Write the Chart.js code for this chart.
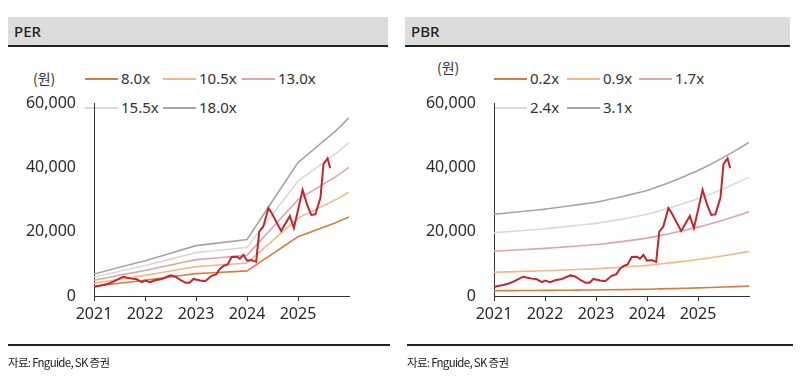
<!DOCTYPE html>
<html>
<head>
<meta charset="utf-8">
<script src="https://cdn.jsdelivr.net/npm/chart.js@4.4.0/dist/chart.umd.min.js"></script>
<style>
  body { margin: 0; width: 800px; height: 385px; background: #fff; overflow: hidden;
         font-family: "Noto Sans", "Noto Sans CJK KR", sans-serif; color: #222; }
  .panel { position: absolute; top: 0; width: 400px; height: 385px; }
  .panel canvas { position: absolute; left: 0; top: 0; }
  .head { position: absolute; top: 17px; height: 28px; background: #dcdcdc;
          border-bottom: 2px solid #222; font-size: 15px; font-weight: 500;
          line-height: 28px; padding-left: 6px; box-sizing: content-box; }
  .foot { position: absolute; top: 344px; height: 0; border-top: 2px solid #222; }
  .src { position: absolute; top: 354px; font-size: 11.5px; letter-spacing: -0.7px;
         font-family: "Noto Sans CJK KR", sans-serif; }
  .unit { position: absolute; font-size: 14px; font-family: "Noto Sans CJK KR", sans-serif; color: #333; }
  .leg { position: absolute; font-size: 15px; line-height: 20px; white-space: nowrap; color: #333; }
  .leg i { display: inline-block; width: 33px; height: 0; border-top: 2px solid; vertical-align: middle;
           margin-right: 3px; position: relative; top: -1px; }
</style>
</head>
<body>
<div class="panel" style="left:0">
  <div class="head" style="left:8px;width:374px">PER</div>
  <div class="unit" style="left:33px;top:68px">(원)</div>
  <div id="legPer"></div>
  <canvas id="perChart" width="400" height="385"></canvas>
  <div class="foot" style="left:8px;width:382px"></div>
  <div class="src" style="left:8px">자료: Fnguide, SK 증권</div>
</div>
<div class="panel" style="left:400px">
  <div class="head" style="left:5px;width:379px">PBR</div>
  <div class="unit" style="left:37px;top:57px">(원)</div>
  <div id="legPbr"></div>
  <canvas id="pbrChart" width="400" height="385"></canvas>
  <div class="foot" style="left:7px;width:386px"></div>
  <div class="src" style="left:7px">자료: Fnguide, SK 증권</div>
</div>
<script>
// quarterly x positions for the band lines (2021.0 .. 2026.0)
const bandX = [2021, 2021.25, 2021.5, 2021.75, 2022, 2022.25, 2022.5, 2022.75, 2023, 2023.25, 2023.5,
               2023.75, 2024, 2024.25, 2024.5, 2024.75, 2025, 2025.25, 2025.5, 2025.75, 2026];

const per8 = [3040, 3500, 3960, 4420, 4880, 5400, 5920, 6440, 6960, 7170, 7380, 7580, 7800,
              10460, 13120, 15780, 18440, 19920, 21400, 22880, 24600];
const per105 = [3990, 4590, 5200, 5800, 6405, 7090, 7770, 8450, 9135, 9410, 9680, 9950, 10240,
                13720, 17220, 20710, 24200, 26150, 28090, 30030, 32300];
const per13 = [4940, 5680, 6435, 7180, 7930, 8775, 9620, 10465, 11310, 11650, 11990, 12320, 12675,
               16990, 21320, 25640, 29965, 32370, 34775, 37180, 40000];
const per155 = [5890, 6770, 7670, 8560, 9455, 10460, 11470, 12480, 13485, 13890, 14290, 14690, 15110,
                20260, 25420, 30570, 35730, 38600, 41460, 44330, 47700];
const per18 = [6840, 7870, 8910, 9940, 10980, 12150, 13320, 14490, 15660, 16130, 16600, 17060, 17550,
               23530, 29520, 35500, 41490, 44820, 48150, 51480, 55400];

const pbr02 = [1640, 1664, 1690, 1716, 1742, 1776, 1810, 1846, 1882, 1934, 1990, 2052, 2116,
               2208, 2304, 2408, 2518, 2644, 2780, 2926, 3080];
const pbr09 = [7380, 7490, 7605, 7720, 7840, 7990, 8145, 8305, 8470, 8700, 8955, 9235, 9520,
               9935, 10370, 10835, 11330, 11900, 12510, 13170, 13860];
const pbr17 = [13940, 14145, 14365, 14585, 14805, 15095, 15385, 15690, 16000, 16440, 16915, 17440, 17985,
               18770, 19585, 20470, 21405, 22475, 23630, 24870, 26180];
const pbr24 = [19680, 19970, 20280, 20590, 20900, 21310, 21720, 22150, 22585, 23210, 23880, 24625, 25390,
               26495, 27650, 28895, 30215, 31730, 33360, 35110, 36960];
const pbr31 = [25420, 25790, 26195, 26600, 27000, 27530, 28055, 28615, 29170, 29980, 30845, 31805, 32800,
               34225, 35710, 37325, 39030, 40980, 43090, 45350, 47740];

// share price (decimal year, won)
const priceX = [2021.00, 2021.08, 2021.18, 2021.28, 2021.37, 2021.47, 2021.57, 2021.66, 2021.74, 2021.84,
                2021.94, 2022.00, 2022.10, 2022.20, 2022.33, 2022.42, 2022.50, 2022.60, 2022.70, 2022.80,
                2022.87, 2022.95, 2023.08, 2023.18, 2023.30, 2023.40, 2023.47, 2023.55, 2023.62, 2023.70,
                2023.80, 2023.86, 2023.93, 2024.00, 2024.09, 2024.18, 2024.24, 2024.32, 2024.42, 2024.48,
                2024.67, 2024.84, 2024.92, 2025.09, 2025.18, 2025.26, 2025.34, 2025.44, 2025.50, 2025.58,
                2025.63];
const price = [2800, 3100, 3400, 3800, 4400, 5200, 6000, 5700, 5400, 5200,
               4300, 4800, 4300, 4900, 5300, 5900, 6400, 6000, 4900, 4100,
               4100, 5300, 4800, 4600, 6200, 6800, 8500, 9400, 9800, 12100,
               12200, 11600, 12800, 11000, 11200, 10600, 20000, 21600, 27300, 25900,
               20200, 24900, 21100, 33000, 28300, 25200, 25400, 30500, 41000, 42800,
               39700];

const yearTicks = [2021, 2022, 2023, 2024, 2025];
const yTicks = [0, 20000, 40000, 60000];

const bandColors = ['#d97b3c', '#f2b983', '#e3a3a5', '#d9d9d9', '#a6a6a6'];
const priceColor = '#c0282d';

const perLabels = ['8.0x', '10.5x', '13.0x', '15.5x', '18.0x'];
const pbrLabels = ['0.2x', '0.9x', '1.7x', '2.4x', '3.1x'];

const tickFont = { family: '"Noto Sans", sans-serif', size: 16 };

function pts(xs, ys) {
    return xs.map((x, i) => ({ x: x, y: ys[i] }));
}

function makeChart(id, bands, labels, curved) {
    const datasets = [{
        label: 'price',
        data: pts(priceX, price),
        borderColor: priceColor,
        borderWidth: 2,
        tension: 0
    }];
    bands.forEach((b, i) => {
        datasets.push({
            label: labels[i],
            data: pts(bandX, b),
            borderColor: bandColors[i],
            borderWidth: 1.6,
            tension: 0,
            cubicInterpolationMode: curved ? 'monotone' : 'default'
        });
    });

    return new Chart(document.getElementById(id).getContext('2d'), {
        type: 'line',
        data: { datasets: datasets },
        options: {
            animation: false,
            responsive: false,
            elements: { point: { radius: 0 } },
            layout: { padding: { top: 103, right: 51, bottom: 0, left: 0 } },
            plugins: { legend: { display: false }, tooltip: { enabled: false } },
            scales: {
                x: {
                    type: 'linear',
                    min: 2021,
                    max: 2026,
                    afterBuildTicks: s => { s.ticks = yearTicks.map(v => ({ value: v })); },
                    afterFit: s => { s.height = 89; },
                    grid: { drawOnChartArea: false, drawTicks: true, tickLength: 5, color: '#333' },
                    border: { color: '#333', width: 1 },
                    ticks: { padding: 4, color: '#2a2a2a', font: tickFont, maxRotation: 0,
                             callback: v => String(v) }
                },
                y: {
                    min: 0,
                    max: 60000,
                    afterBuildTicks: s => { s.ticks = yTicks.map(v => ({ value: v })); },
                    afterFit: s => { s.width = 94; },
                    grid: { display: false, drawTicks: false },
                    border: { color: '#333', width: 1 },
                    ticks: { padding: 18, color: '#2a2a2a', font: tickFont,
                             callback: v => v.toLocaleString('en-US') }
                }
            }
        }
    });
}

function makeLegend(id, labels, spots) {
    const box = document.getElementById(id);
    labels.forEach((t, i) => {
        const d = document.createElement('div');
        d.className = 'leg';
        d.style.left = spots[i][0] + 'px';
        d.style.top = (spots[i][1] - 10) + 'px';
        d.innerHTML = '<i style="border-color:' + bandColors[i] + '"></i>' + t;
        box.appendChild(d);
    });
}

makeChart('perChart', [per8, per105, per13, per155, per18], perLabels, false);
makeChart('pbrChart', [pbr02, pbr09, pbr17, pbr24, pbr31], pbrLabels, true);

makeLegend('legPer', perLabels, [[85, 78], [163, 78], [242, 78], [85, 107], [163, 107]]);
makeLegend('legPbr', pbrLabels, [[94, 78], [167, 78], [239, 78], [94, 107], [167, 107]]);
</script>
</body>
</html>
